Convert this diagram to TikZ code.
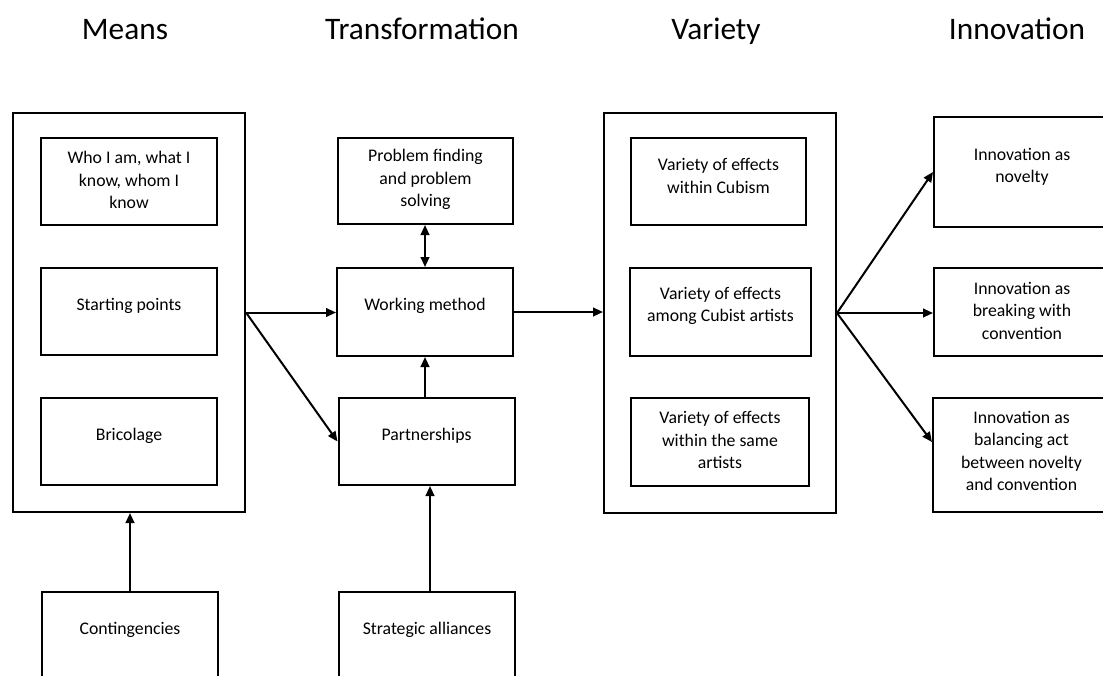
\documentclass[tikz,border=0pt]{standalone}
\usepackage{fontspec}
\setmainfont{Carlito}
\usetikzlibrary{arrows.meta}
\begin{document}
\begin{tikzpicture}[x=0.75pt,y=-0.75pt,
  bx/.style={draw, line width=1.5pt, inner sep=0pt, rectangle},
  sm/.style={bx, minimum width=132pt, minimum height=65.25pt},
  txt/.style={align=center, font=\fontsize{13.3pt}{16.9pt}\selectfont, inner sep=0pt},
  ttl/.style={font=\fontsize{23.5pt}{28pt}\selectfont, anchor=base, inner sep=0pt},
  arr/.style={line width=1.5pt, -{Triangle[length=7.5pt,width=6.5pt]}},
  darr/.style={line width=1.5pt, {Triangle[length=7.5pt,width=6.5pt]}-{Triangle[length=7.5pt,width=6.5pt]}},
]
\useasboundingbox (0,0) rectangle (1103,675);
\clip (0,0) rectangle (1103,675);

% titles
\node[ttl] (tmeans) at (125,39) {Means};
\node[ttl] (ttrans) at (422,39) {Transformation};
\node[ttl] (tvar) at (716,39) {Variety};
\node[ttl] (tinno) at (1017,39) {Innovation};

% Means column
\node[bx, minimum width=174pt, minimum height=299.25pt] (means) at (129,312.5) {};
\node[sm] (m1) at (129,181.5) {};
\node[txt] (m1t) at ([yshift=1pt]m1.center) {Who I am, what I\\know, whom I\\know};
\node[sm] (m2) at (129,311.5) {};
\node[txt] (m2t) at ([yshift=4.5pt]m2.center) {Starting points};
\node[sm] (m3) at (129,441.5) {};
\node[txt] (m3t) at ([yshift=4.5pt]m3.center) {Bricolage};
\node[sm] (cont) at (130,635.5) {};
\node[txt] (contt) at ([yshift=4.5pt]cont.center) {Contingencies};

% Transformation column
\node[bx, minimum width=131.25pt, minimum height=64.5pt] (pf) at (425.5,181) {};
\node[txt] (pft) at ([yshift=1pt]pf.center) {Problem finding\\and problem\\solving};
\node[bx, minimum width=132pt, minimum height=66pt] (wm) at (425,312) {};
\node[txt] (wmt) at ([yshift=4.5pt]wm.center) {Working method};
\node[sm] (part) at (426.5,441.5) {};
\node[txt] (partt) at ([yshift=4.5pt]part.center) {Partnerships};
\node[sm] (strat) at (427,635.5) {};
\node[txt] (stratt) at ([yshift=4.5pt]strat.center) {Strategic alliances};

% Variety column
\node[bx, minimum width=174pt, minimum height=300pt] (var) at (720,313) {};
\node[bx, minimum width=131.25pt, minimum height=65.25pt] (v1) at (718.5,181.5) {};
\node[txt] (v1t) at ([yshift=4pt]v1.center) {Variety of effects\\within Cubism};
\node[bx, minimum width=135.75pt, minimum height=66pt] (v2) at (720.5,312) {};
\node[txt] (v2t) at ([yshift=4.5pt]v2.center) {Variety of effects\\among Cubist artists};
\node[bx, minimum width=133.5pt, minimum height=66pt] (v3) at (720,442) {};
\node[txt] (v3t) at ([yshift=1.5pt]v3.center) {Variety of effects\\within the same\\artists};

% Innovation column
\node[bx, minimum width=132pt, minimum height=82.5pt] (i1) at (1022,172) {};
\node[txt] (i1t) at ([yshift=4pt]i1.center) {Innovation as\\novelty};
\node[bx, minimum width=132pt, minimum height=66pt] (i2) at (1022,312) {};
\node[txt] (i2t) at ([yshift=1pt]i2.center) {Innovation as\\breaking with\\convention};
\node[bx, minimum width=132.75pt, minimum height=85.5pt] (i3) at (1021.5,455) {};
\node[txt] (i3t) at ([yshift=3pt]i3.center) {Innovation as\\balancing act\\between novelty\\and convention};

% connectors
\draw[arr] (cont.north) -- (cont.north |- means.south);
\draw[arr] ([xshift=2.25pt]strat.north) -- ([xshift=2.25pt]strat.north |- part.south);
\draw[arr] (means.east) -- (means.east -| wm.west);
\draw[arr] (means.east) -- (part.west);
\draw[arr] (wm.south |- part.north) -- (wm.south);
\draw[darr] (wm.north |- pf.south) -- (wm.north);
\draw[arr] (wm.east) -- (wm.east -| var.west);
\draw[arr] (var.east) -- (i1.west);
\draw[arr] (var.east) -- (var.east -| i2.west);
\draw[arr] (var.east) -- ([yshift=9.75pt]i3.west);
\end{tikzpicture}
\end{document}
